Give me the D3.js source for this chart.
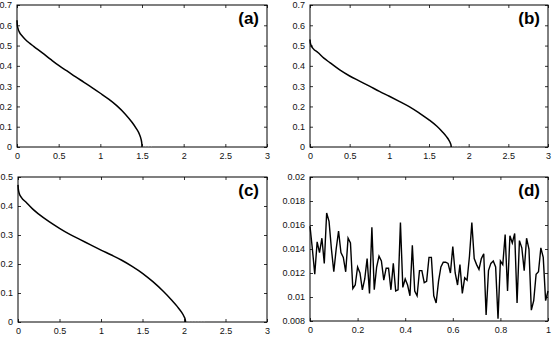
<!DOCTYPE html>
<html>
<head>
<meta charset="utf-8">
<script src="https://cdn.jsdelivr.net/npm/d3@7"></script>
<style>
  body { margin: 0; background: #fff; }
  svg { display: block; }
  .tick text { font-family: "Liberation Sans", Arial, sans-serif; font-size: 9px; fill: #111; }
  .panel-label { font-family: "Liberation Sans", Arial, sans-serif; font-size: 17px; font-weight: bold; fill: #000; }
</style>
</head>
<body>
<svg width="553" height="337"></svg>
<script>
// ---- data ----
const xTicksABC = [0, 0.5, 1, 1.5, 2, 2.5, 3]
const yTicksAB = [0, 0.1, 0.2, 0.3, 0.4, 0.5, 0.6, 0.7]
const yTicksC = [0, 0.1, 0.2, 0.3, 0.4, 0.5]
const xTicksD = [0, 0.2, 0.4, 0.6, 0.8, 1]
const yTicksD = [0.008, 0.01, 0.012, 0.014, 0.016, 0.018, 0.02]

const aX = [0, 0.004, 0.015, 0.03, 0.06, 0.1, 0.15, 0.2, 0.3, 0.4, 0.5, 0.6, 0.7, 0.8, 0.9, 1.0, 1.1, 1.2, 1.3, 1.38, 1.43, 1.47, 1.49, 1.498, 1.5]
const aY = [0.625, 0.600, 0.580, 0.565, 0.548, 0.53, 0.512, 0.496, 0.465, 0.433, 0.402, 0.375, 0.347, 0.320, 0.293, 0.265, 0.236, 0.203, 0.162, 0.122, 0.092, 0.062, 0.036, 0.016, 0]

const bX = [0, 0.004, 0.015, 0.04, 0.1, 0.175, 0.25, 0.375, 0.5, 0.625, 0.75, 0.875, 1.0, 1.125, 1.25, 1.375, 1.5, 1.6, 1.67, 1.72, 1.75, 1.77, 1.778, 1.78]
const bY = [0.53, 0.515, 0.50, 0.485, 0.466, 0.438, 0.416, 0.38, 0.35, 0.325, 0.30, 0.274, 0.25, 0.225, 0.199, 0.168, 0.134, 0.102, 0.074, 0.051, 0.034, 0.018, 0.008, 0]

const cX = [0, 0.004, 0.015, 0.04, 0.1, 0.175, 0.25, 0.375, 0.5, 0.625, 0.75, 0.875, 1.0, 1.125, 1.25, 1.375, 1.5, 1.625, 1.75, 1.85, 1.92, 1.97, 2.0, 2.015, 2.02]
const cY = [0.473, 0.458, 0.443, 0.43, 0.412, 0.39, 0.372, 0.346, 0.323, 0.302, 0.284, 0.266, 0.248, 0.231, 0.213, 0.192, 0.168, 0.139, 0.106, 0.076, 0.053, 0.034, 0.019, 0.008, 0]

// faint tails of scattered points along zero after each curve ends
const tailA = [1.5, 1.62]
const tailB = [1.78, 1.9]
const tailC = [2.02, 2.25]

// panel (d): sampled every 0.01 from 0 to 1
const dStep = 0.01
const dY = [
  0.0159, 0.0140, 0.0119, 0.0146, 0.0137, 0.0149, 0.0128, 0.0170, 0.0163, 0.0140,
  0.0121, 0.0140, 0.0155, 0.0137, 0.0133, 0.0121, 0.0149, 0.0145, 0.0107, 0.0110,
  0.0125, 0.0120, 0.0106, 0.0115, 0.0132, 0.0103, 0.0158, 0.0106, 0.0125, 0.0134,
  0.0130, 0.0114, 0.0124, 0.0124, 0.0106, 0.0128, 0.0105, 0.0106, 0.0162, 0.0108,
  0.0115, 0.0110, 0.0101, 0.0143, 0.0105, 0.0101, 0.0122, 0.0122, 0.0112, 0.0113,
  0.0133, 0.0133, 0.0101, 0.0095, 0.0113, 0.0125, 0.0129, 0.0129, 0.0128, 0.0120,
  0.0142, 0.0120, 0.0110, 0.0127, 0.0103, 0.0116, 0.0114, 0.0134, 0.0162, 0.0132,
  0.0127, 0.0123, 0.0132, 0.0136, 0.0085, 0.0122, 0.0128, 0.0130, 0.0125, 0.0082,
  0.0130, 0.0127, 0.0152, 0.0105, 0.0151, 0.0145, 0.0153, 0.0095, 0.0147, 0.0141,
  0.0122, 0.0149, 0.0140, 0.0089, 0.0097, 0.0119, 0.0121, 0.0141, 0.0133, 0.0097,
  0.0105
]

const svg = d3.select('svg')
const fmt = d => String(+d.toFixed(4))

const panel = (box, xDomain, yDomain, xTicks, yTicks, label) => {
  const x = d3.scaleLinear().domain(xDomain).range([box.left, box.right])
  const y = d3.scaleLinear().domain(yDomain).range([box.bottom, box.top])
  const g = svg.append('g')
  const w = box.right - box.left
  const h = box.bottom - box.top

  // inward ticks on all four sides
  const bottom = g.append('g').attr('transform', `translate(0,${box.bottom})`)
    .call(d3.axisBottom(x).tickValues(xTicks).tickSize(-3).tickPadding(6).tickFormat(fmt))
  const top = g.append('g').attr('transform', `translate(0,${box.top})`)
    .call(d3.axisTop(x).tickValues(xTicks).tickSize(-3).tickFormat(''))
  const left = g.append('g').attr('transform', `translate(${box.left},0)`)
    .call(d3.axisLeft(y).tickValues(yTicks).tickSize(-3).tickPadding(5).tickFormat(fmt))
  const right = g.append('g').attr('transform', `translate(${box.right},0)`)
    .call(d3.axisRight(y).tickValues(yTicks).tickSize(-3).tickFormat(''))
  ;[bottom, top, left, right].forEach(a => {
    a.select('.domain').remove()
    a.selectAll('.tick line').attr('stroke', '#000').attr('stroke-width', 0.8)
  })

  g.append('rect')
    .attr('x', box.left).attr('y', box.top)
    .attr('width', w).attr('height', h)
    .attr('fill', 'none').attr('stroke', '#000').attr('stroke-width', 1)

  g.append('text')
    .attr('class', 'panel-label')
    .attr('x', box.right - 8)
    .attr('y', box.top + 19)
    .attr('text-anchor', 'end')
    .text(label)

  return { g, x, y }
}

const drawCurve = (p, xs, ys, tail) => {
  const pts = xs.map((v, i) => [v, ys[i]])
  p.g.append('line')
    .attr('x1', p.x(tail[0])).attr('x2', p.x(tail[1]))
    .attr('y1', p.y(0) - 0.5).attr('y2', p.y(0) - 0.5)
    .attr('stroke', '#999').attr('stroke-width', 0.8)
    .attr('stroke-dasharray', '1,2')
  p.g.append('path')
    .datum(pts)
    .attr('fill', 'none')
    .attr('stroke', '#000')
    .attr('stroke-width', 1.5)
    .attr('d', d3.line().x(d => p.x(d[0])).y(d => p.y(d[1])).curve(d3.curveMonotoneX))
}

const pa = panel({ left: 17, right: 267, top: 5, bottom: 147 }, [0, 3], [0, 0.7], xTicksABC, yTicksAB, '(a)')
drawCurve(pa, aX, aY, tailA)

const pb = panel({ left: 310, right: 548, top: 5, bottom: 147 }, [0, 3], [0, 0.7], xTicksABC, yTicksAB, '(b)')
drawCurve(pb, bX, bY, tailB)

const pc = panel({ left: 18, right: 267, top: 177, bottom: 322 }, [0, 3], [0, 0.5], xTicksABC, yTicksC, '(c)')
drawCurve(pc, cX, cY, tailC)

const pd = panel({ left: 310, right: 548, top: 177, bottom: 321 }, [0, 1], [0.008, 0.02], xTicksD, yTicksD, '(d)')
pd.g.append('path')
  .datum(dY)
  .attr('fill', 'none')
  .attr('stroke', '#000')
  .attr('stroke-width', 1.4)
  .attr('stroke-linejoin', 'miter')
  .attr('d', d3.line().x((d, i) => pd.x(i * dStep)).y(d => pd.y(d)))
</script>
</body>
</html>
